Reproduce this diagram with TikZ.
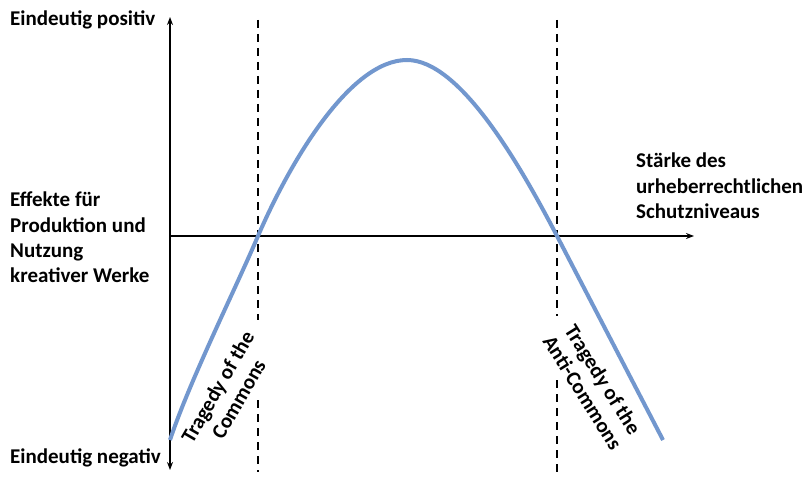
\documentclass[tikz,border=0pt]{standalone}
\usepackage{fontspec}
\setmainfont{Carlito}
\usetikzlibrary{arrows.meta}
\definecolor{curveblue}{RGB}{114,151,206}
\begin{document}
\begin{tikzpicture}[x=1pt,y=-1pt,
  lab/.style={font=\bfseries\fontsize{21}{25.2}\selectfont, align=left, inner sep=0pt},
  rlab/.style={font=\bfseries\fontsize{21}{24}\selectfont, align=center, inner sep=2pt},
  axisline/.style={line width=1.5pt, -{Stealth[length=8pt,width=6pt]}},
  dashv/.style={line width=1.5pt, dash pattern=on 8pt off 6pt},
  curveline/.style={line width=4pt, curveblue}]
\useasboundingbox[fill=white] (0,0) rectangle (805,484);
% axis coordinates
\coordinate (o) at (170,236);
\coordinate (yt) at (170,17);
\coordinate (yb) at (170,470);
\coordinate (xe) at (694,236);
\coordinate (d1t) at (258,20);
\coordinate (d1g) at (258,320);
\coordinate (d1h) at (258,400);
\coordinate (d1b) at (258,472);
\coordinate (d2t) at (557,20);
\coordinate (d2g) at (557,316);
\coordinate (d2h) at (557,380);
\coordinate (d2b) at (557,472);
% dashed lines (interrupted behind the labels)
\draw[dashv] (d1t) -- (d1g);
\draw[dashv] (d1h) -- (d1b);
\draw[dashv] (d2t) -- (d2g);
\draw[dashv] (d2h) -- (d2b);
% axes
\draw[axisline] (o) -- (yt);
\draw[axisline] (o) -- (yb);
\draw[axisline] (o) -- (xe);
% labels
\node[lab, anchor=base west] (pos) at (10,26) {Eindeutig positiv};
\node[lab, anchor=base west] (neg) at (10,463) {Eindeutig negativ};
\node[lab, anchor=north west] (eff) at (10,192) {Effekte für\\Produktion und\\Nutzung\\kreativer Werke};
\node[lab, anchor=north west] (st) at (636,153) {Stärke des\\urheberrechtlichen\\Schutzniveaus};
\node[rlab, rotate=60] (toc) at (228,393) {Tragedy of the\\Commons};
\node[rlab, rotate=-58] (tac) at (593,386) {Tragedy of the\\Anti-Commons};
% curve
\coordinate (c0) at (170,440);
\coordinate (c1) at (258,236);
\coordinate (c2) at (407,60);
\coordinate (c3) at (557,236);
\coordinate (c4) at (663,440);
\draw[curveline] (c0) .. controls (190,380) and (235,290) .. (c1)
  .. controls (290,162) and (350,60) .. (c2)
  .. controls (460,60) and (520,165) .. (c3) -- (c4);
\end{tikzpicture}
\end{document}
